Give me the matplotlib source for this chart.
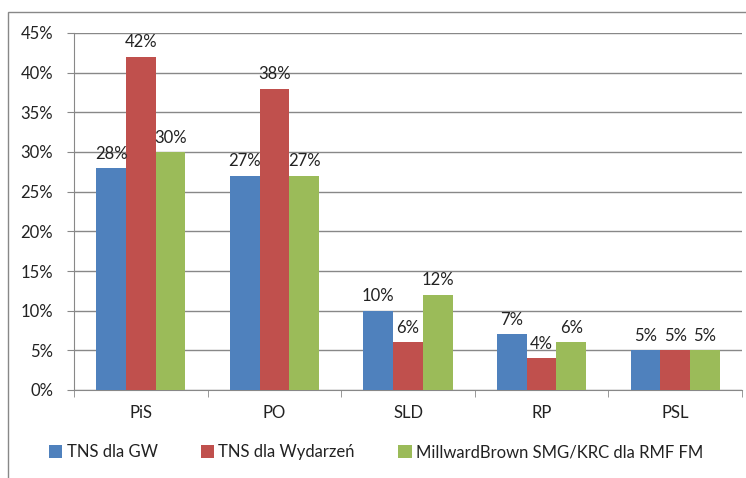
import matplotlib
matplotlib.use("Agg")
import matplotlib.pyplot as plt
import numpy as np
from matplotlib.patches import Rectangle
from matplotlib.ticker import PercentFormatter

categories = ["PiS", "PO", "SLD", "RP", "PSL"]
series_names = ["TNS dla GW", "TNS dla Wydarzeń", "MillwardBrown SMG/KRC dla RMF FM"]
tns_gw = [28, 27, 10, 7, 5]
tns_wyd = [42, 38, 6, 4, 5]
millward = [30, 27, 12, 6, 5]
colors = ["#4F81BD", "#C0504D", "#9BBB59"]

plt.rcParams['font.family'] = ['Lato', 'DejaVu Sans']
FS = 12

fig = plt.figure(figsize=(7.46, 4.78), dpi=100)
W, H = 746, 478
# outer chart border
fig.patches.append(Rectangle((8 / W, -0.1), 1.2, 1 - 12 / H + 0.1, transform=fig.transFigure,
                             fill=False, edgecolor="#888888", linewidth=1.0))

ax = fig.add_axes([74 / W, 1 - 390 / H, (742 - 74) / W, (390 - 33) / H])

x = np.arange(len(categories))
bw = 1 / 4.5
data = [tns_gw, tns_wyd, millward]
for i, (vals, c, name) in enumerate(zip(data, colors, series_names)):
    pos = x + (i - 1) * bw
    bars = ax.bar(pos, vals, width=bw, color=c, label=name, zorder=3)
    for b, v in zip(bars, vals):
        ax.text(b.get_x() + b.get_width() / 2, v + 0.8, f"{v}%", ha="center", va="bottom",
                fontsize=FS, color="#222222", zorder=4)

ax.set_xlim(-0.5, len(categories) - 0.5)
ax.set_ylim(0, 45)
ax.set_yticks(np.arange(0, 46, 5))
ax.yaxis.set_major_formatter(PercentFormatter(decimals=0))
ax.yaxis.grid(True, color="#888888", linewidth=1.0, zorder=0)
ax.set_axisbelow(True)

ax.set_xticks(x)
ax.set_xticklabels(categories)
ax.set_xticks(np.arange(-0.5, len(categories), 1), minor=True)
ax.tick_params(axis="x", which="major", length=0, pad=11, labelsize=FS, labelcolor="#222222")
ax.tick_params(axis="x", which="minor", length=5, color="#888888", direction="out")
ax.tick_params(axis="y", length=5, color="#888888", direction="out", labelsize=FS, labelcolor="#222222", pad=10)

for s in ["top", "right"]:
    ax.spines[s].set_visible(False)
ax.spines["left"].set_color("#888888")
ax.spines["bottom"].set_color("#888888")

leg = fig.legend(loc="center", bbox_to_anchor=(376 / W, 1 - 452 / H), ncol=3, frameon=False,
                 fontsize=FS, handlelength=0.8, handleheight=0.8, handletextpad=0.25, columnspacing=2.6)
for t in leg.get_texts():
    t.set_color("#222222")

fig.savefig("out.png", dpi=100)
